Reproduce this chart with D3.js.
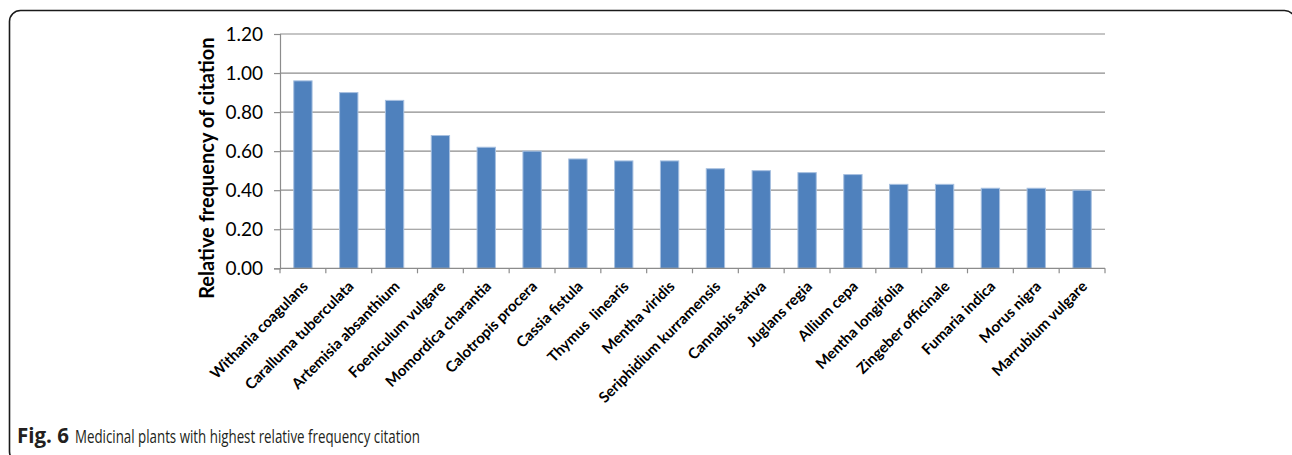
<!DOCTYPE html>
<html>
<head>
<meta charset="utf-8">
<script src="https://cdn.jsdelivr.net/npm/d3@7/dist/d3.min.js"></script>
<style>
  html, body { margin: 0; padding: 0; background: #fff; }
  svg { display: block; }
</style>
</head>
<body>
<svg id="chart" width="1292" height="455"></svg>
<script>
// Plant species and their relative frequency of citation (RFC)
const species = [
  "Withania coagulans", "Caralluma tuberculata", "Artemisia absanthium",
  "Foeniculum vulgare", "Momordica charantia", "Calotropis procera",
  "Cassia fistula", "Thymus  linearis", "Mentha viridis",
  "Seriphidium kurramensis", "Cannabis sativa", "Juglans regia",
  "Allium cepa", "Mentha longifolia", "Zingeber officinale",
  "Fumaria indica", "Morus nigra", "Marrubium vulgare"
];
const rfc = [
  0.96, 0.90, 0.86, 0.68, 0.62, 0.60, 0.56, 0.55, 0.55,
  0.51, 0.50, 0.49, 0.48, 0.43, 0.43, 0.41, 0.41, 0.40
];
const yTicks = [0, 0.2, 0.4, 0.6, 0.8, 1.0, 1.2];
const yTitle = "Relative frequency of citation";
const captionBold = "Fig. 6";
const captionText = "Medicinal plants with highest relative frequency citation";

const svg = d3.select("#chart");
const font = "Lato, 'Open Sans', sans-serif";

// Rounded outer frame
svg.append("rect")
  .attr("x", 9.5).attr("y", 10.5)
  .attr("width", 1286).attr("height", 452)
  .attr("rx", 11).attr("ry", 11)
  .attr("fill", "none").attr("stroke", "#1a1a1a").attr("stroke-width", 1.6);

const plot = { left: 280, right: 1105, top: 34, bottom: 268.3 };

const x = d3.scaleBand().domain(species)
  .range([plot.left, plot.right]).paddingInner(0.6).paddingOuter(0.3);
const y = d3.scaleLinear().domain([0, 1.2]).range([plot.bottom, plot.top]);

// Horizontal gridlines
svg.append("g")
  .selectAll("line").data(yTicks.slice(1)).join("line")
  .attr("x1", plot.left).attr("x2", plot.right)
  .attr("y1", d => y(d)).attr("y2", d => y(d))
  .attr("stroke", "#8c8c8c").attr("stroke-width", 1.2);

// Bars
svg.append("g")
  .selectAll("rect").data(species).join("rect")
  .attr("x", d => x(d))
  .attr("y", (d, i) => y(rfc[i]))
  .attr("width", x.bandwidth())
  .attr("height", (d, i) => y(0) - y(rfc[i]))
  .attr("fill", "#4f81bd")
  .attr("stroke", "#a7c0e0").attr("stroke-width", 1);

// Y axis
const yAxis = svg.append("g")
  .attr("transform", `translate(${plot.left},0)`)
  .call(d3.axisLeft(y).tickValues(yTicks).tickFormat(d3.format(".2f"))
    .tickSize(6).tickPadding(11));
yAxis.select(".domain").attr("stroke", "#8c8c8c").attr("stroke-width", 1.2);
yAxis.selectAll(".tick line").attr("stroke", "#8c8c8c").attr("stroke-width", 1.2);
yAxis.selectAll(".tick text")
  .attr("font-family", font).attr("font-size", 19).attr("fill", "#000");

// X axis: ticks at band boundaries
const bounds = d3.range(species.length + 1).map(i => plot.left + i * (plot.right - plot.left) / species.length);
const xAxisG = svg.append("g");
xAxisG.append("line")
  .attr("x1", plot.left).attr("x2", plot.right)
  .attr("y1", plot.bottom).attr("y2", plot.bottom)
  .attr("stroke", "#8c8c8c").attr("stroke-width", 1.2);
xAxisG.selectAll("line.tk").data(bounds).join("line").attr("class", "tk")
  .attr("x1", d => d).attr("x2", d => d)
  .attr("y1", plot.bottom).attr("y2", plot.bottom + 5)
  .attr("stroke", "#8c8c8c").attr("stroke-width", 1.2);

// Rotated category labels
xAxisG.selectAll("text").data(species).join("text")
  .attr("transform", d => `translate(${x(d) + x.bandwidth() / 2 + 6},${plot.bottom + 19}) rotate(-45)`)
  .attr("text-anchor", "end")
  .attr("font-family", font).attr("font-weight", "bold")
  .attr("font-size", 15).attr("fill", "#000")
  .style("white-space", "pre")
  .text(d => d);

// Y axis title
svg.append("text")
  .attr("transform", `translate(214,${(plot.top + plot.bottom) / 2 + 17}) rotate(-90)`)
  .attr("text-anchor", "middle")
  .attr("font-family", font).attr("font-weight", "bold")
  .attr("font-size", 20).attr("fill", "#000")
  .text(yTitle);

// Figure caption: bold figure number followed by condensed description
svg.append("text")
  .attr("x", 17).attr("y", 443)
  .attr("font-family", "'Open Sans', sans-serif").attr("font-size", 20.5)
  .attr("font-weight", "bold").attr("fill", "#231f20")
  .text(captionBold);
svg.append("text")
  .attr("x", 75).attr("y", 443)
  .attr("font-family", "'Open Sans', sans-serif").attr("font-size", 19)
  .attr("font-weight", 400).attr("fill", "#231f20")
  .attr("textLength", 345).attr("lengthAdjust", "spacingAndGlyphs")
  .text(captionText);
</script>
</body>
</html>
